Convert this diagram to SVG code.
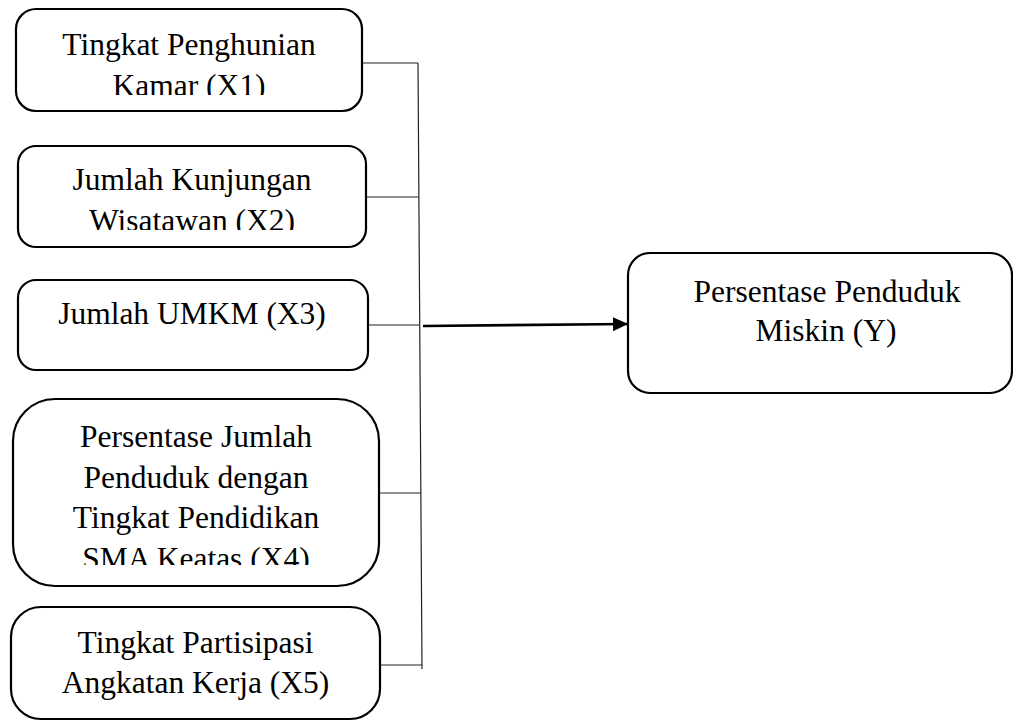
<svg xmlns="http://www.w3.org/2000/svg" width="1013" height="721" viewBox="0 0 1013 721">
<style>
.box{fill:#fff;stroke:#000;stroke-width:2.2}
.t{font-family:"Liberation Serif","Times New Roman",serif;font-size:31.5px;fill:#000;text-anchor:middle}
.c{stroke:#222;stroke-width:1.2;fill:none}
.a{stroke:#000;stroke-width:2.6;fill:none}
</style>
<defs>
<marker id="ah" markerUnits="userSpaceOnUse" markerWidth="16" markerHeight="16" refX="15" refY="7" orient="auto">
<path d="M0,0 L15,7 L0,14 Z" fill="#000"/>
</marker>
<clipPath id="c1"><rect x="16" y="9" width="346" height="86"/></clipPath>
<clipPath id="c2"><rect x="18" y="146" width="348" height="84"/></clipPath>
<clipPath id="c4"><rect x="13" y="399" width="366" height="166"/></clipPath>
</defs>
<g id="connectors">
<line class="c" x1="362" y1="63" x2="418" y2="63"/>
<line class="c" x1="366" y1="197" x2="418.5" y2="197"/>
<line class="c" x1="368" y1="325" x2="419" y2="325"/>
<line class="c" x1="379" y1="493" x2="421" y2="493"/>
<line class="c" x1="379" y1="665" x2="422" y2="665"/>
<line class="c" x1="418" y1="63" x2="422" y2="669"/>
<line class="a" x1="423" y1="326" x2="628" y2="324" marker-end="url(#ah)"/>
</g>
<g id="x1">
<rect class="box" x="16" y="9" width="346" height="102" rx="20"/>
<g clip-path="url(#c1)"><text class="t" x="189" y="54.5">Tingkat Penghunian</text><text class="t" x="189" y="95.5">Kamar (X1)</text></g>
</g>
<g id="x2">
<rect class="box" x="18" y="146" width="348" height="101" rx="18"/>
<g clip-path="url(#c2)"><text class="t" x="192" y="190">Jumlah Kunjungan</text><text class="t" x="192" y="231">Wisatawan (X2)</text></g>
</g>
<g id="x3">
<rect class="box" x="18" y="280" width="350" height="90" rx="18"/>
<text class="t" x="192" y="324">Jumlah UMKM (X3)</text>
</g>
<g id="x4">
<rect class="box" x="13" y="399" width="366" height="187" rx="42"/>
<g clip-path="url(#c4)"><text class="t" x="196" y="447">Persentase Jumlah</text><text class="t" x="196" y="487.5">Penduduk dengan</text><text class="t" x="196" y="528">Tingkat Pendidikan</text><text class="t" x="196" y="569">SMA Keatas (X4)</text></g>
</g>
<g id="x5">
<rect class="box" x="11" y="607" width="369" height="112" rx="30"/>
<text class="t" x="195.5" y="652.5">Tingkat Partisipasi</text>
<text class="t" x="195.5" y="692.5">Angkatan Kerja (X5)</text>
</g>
<g id="y">
<rect class="box" x="628" y="253" width="384" height="140" rx="22"/>
<text class="t" x="827" y="302">Persentase Penduduk</text>
<text class="t" x="826" y="340.5">Miskin (Y)</text>
</g>
</svg>
